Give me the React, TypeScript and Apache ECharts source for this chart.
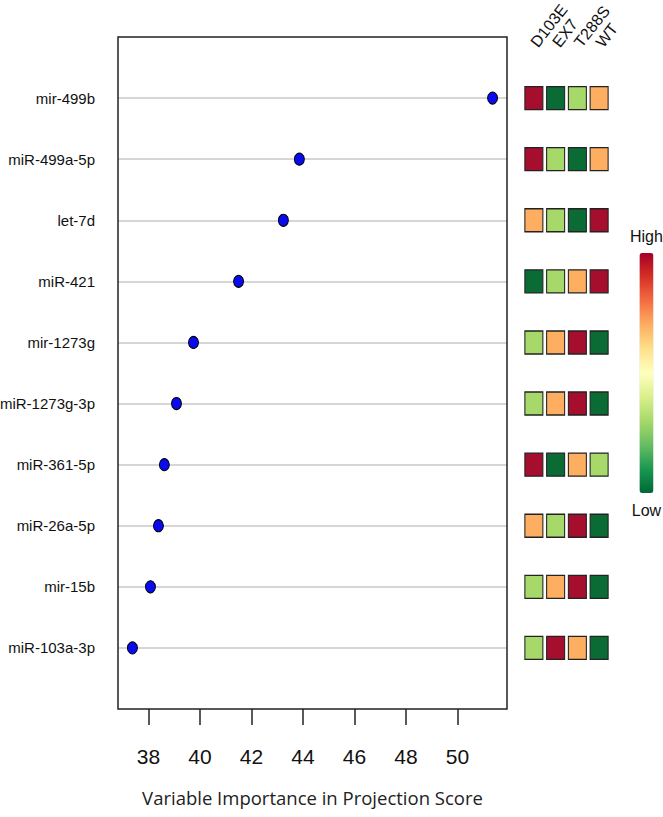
import React, { useEffect, useRef } from "react";
import * as echarts from "echarts";

const mirnas = [
  "mir-499b",
  "miR-499a-5p",
  "let-7d",
  "miR-421",
  "mir-1273g",
  "miR-1273g-3p",
  "miR-361-5p",
  "miR-26a-5p",
  "mir-15b",
  "miR-103a-3p",
];
const vipScores = [51.36, 43.86, 43.24, 41.5, 39.75, 39.09, 38.62, 38.39, 38.08, 37.38];
const groups = ["D103E", "EX7", "T288S", "WT"];
// relative level per group (1 = lowest, 4 = highest)
const D103E = [4, 4, 3, 1, 2, 2, 4, 3, 2, 2];
const EX7 = [1, 2, 2, 2, 3, 3, 1, 2, 3, 4];
const T288S = [2, 1, 1, 3, 4, 4, 3, 4, 4, 3];
const WT = [3, 3, 4, 4, 1, 1, 2, 1, 1, 1];
const xTicks = [38, 40, 42, 44, 46, 48, 50];
const xMin = 36.82;
const xMax = 51.92;

const levelColors = ["#0b6b35", "#a6d96a", "#fdae61", "#a50f2d"];
const rampColors = [
  "#006837", "#1a9850", "#66bd63", "#a6d96a", "#d9ef8b", "#ffffbf",
  "#fee08b", "#fdae61", "#f46d43", "#d73027", "#a50026",
];
const sans = "'Liberation Sans', Arial, sans-serif";

export default function App() {
  const ref = useRef<HTMLDivElement>(null);
  useEffect(() => {
    if (!ref.current) return;
    const chart = echarts.init(ref.current, undefined, { renderer: "svg" });
    const levels = [D103E, EX7, T288S, WT];
    const cells: any[] = [];
    levels.forEach((arr, g) => {
      arr.forEach((lv, r) => {
        cells.push({ value: [g, r + 1, lv], itemStyle: { color: levelColors[lv - 1] } });
      });
    });
    const splitColors = ["rgba(0,0,0,0)"].concat(mirnas.map(() => "#c8c8c8"), ["rgba(0,0,0,0)"]);
    chart.setOption({
      animation: false,
      backgroundColor: "#ffffff",
      grid: [
        { left: 118, top: 37, width: 389, height: 672, show: true, borderColor: "#222", borderWidth: 1.5, backgroundColor: "transparent", z: 3, outerBoundsMode: "none", containLabel: false },
        { left: 523, top: 37, width: 87, height: 672, show: false, outerBoundsMode: "none", containLabel: false },
      ],
      xAxis: [
        {
          type: "value",
          gridIndex: 0,
          min: xMin,
          max: xMax,
          axisLine: { show: false, onZero: false },
          splitLine: { show: false },
          axisTick: { show: true, length: 16, customValues: xTicks, lineStyle: { color: "#222", width: 1.5 } },
          axisLabel: { customValues: xTicks, margin: 37, fontSize: 21, color: "#111", fontFamily: sans },
          name: "Variable Importance in Projection Score",
          nameLocation: "middle",
          nameGap: 79,
          nameTextStyle: { fontFamily: "'Open Sans', sans-serif", fontSize: 18.5, color: "#222" },
        },
        {
          type: "category",
          gridIndex: 1,
          data: groups,
          position: "top",
          axisLine: { show: false, onZero: false },
          axisTick: { show: false },
          splitLine: { show: false },
          axisLabel: { rotate: -52, margin: -8, fontSize: 16, color: "#111", fontFamily: sans, interval: 0 },
        },
      ],
      yAxis: [
        {
          type: "value",
          gridIndex: 0,
          inverse: true,
          min: 0,
          max: 11,
          interval: 1,
          axisLine: { show: false, onZero: false },
          axisTick: { show: false },
          splitLine: { show: true, lineStyle: { color: splitColors, width: 1.5 } },
          axisLabel: {
            margin: 23,
            fontSize: 15,
            color: "#111",
            fontFamily: sans,
            formatter: (v: number) => mirnas[v - 1] || "",
          },
        },
        {
          type: "value",
          gridIndex: 1,
          inverse: true,
          min: 0,
          max: 11,
          show: false,
        },
      ],
      visualMap: {
        type: "continuous",
        seriesIndex: [],
        min: 1,
        max: 4,
        calculable: false,
        orient: "vertical",
        itemWidth: 14,
        itemHeight: 240,
        left: 615,
        top: 213,
        text: ["High", "Low"],
        textGap: 9,
        textStyle: { fontSize: 16, color: "#111", fontFamily: sans },
        inRange: { color: rampColors },
      },
      series: [
        {
          type: "scatter",
          xAxisIndex: 0,
          yAxisIndex: 0,
          symbol: "circle",
          symbolSize: [10, 12],
          itemStyle: { color: "#0a0af0", borderColor: "#000", borderWidth: 1, opacity: 1 },
          data: vipScores.map((v, i) => [v, i + 1]),
          z: 5,
        },
        {
          type: "scatter",
          xAxisIndex: 1,
          yAxisIndex: 1,
          symbol: "rect",
          symbolSize: [18, 23],
          itemStyle: { borderColor: "#222", borderWidth: 1.2, opacity: 1 },
          data: cells,
        },
      ],
    });
    return () => chart.dispose();
  }, []);
  return <div ref={ref} style={{ position: "fixed", left: 0, top: 0, width: 663, height: 817 }} />;
}
